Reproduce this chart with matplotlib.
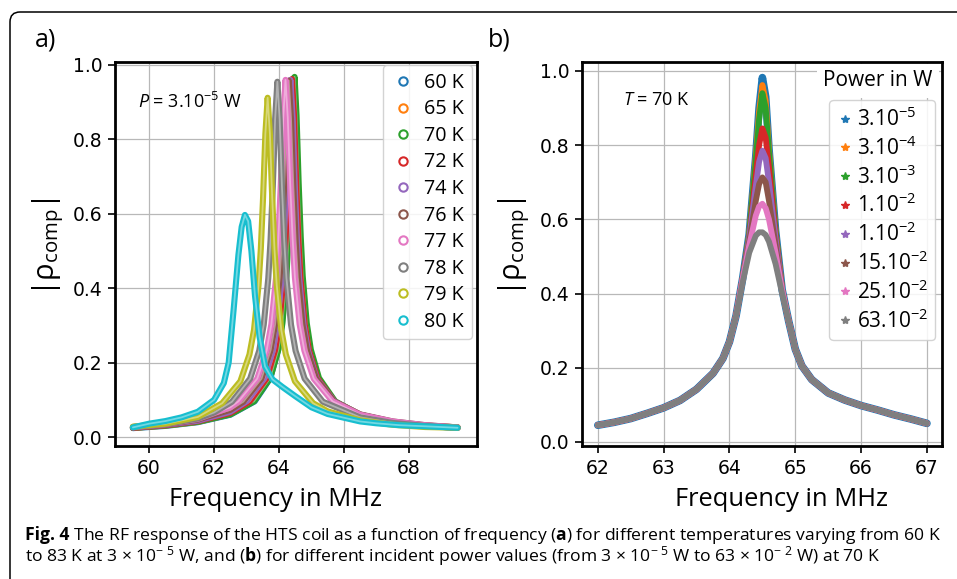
import matplotlib
matplotlib.use("Agg")
import matplotlib.pyplot as plt
import matplotlib.patheffects as pe
from matplotlib.colors import to_rgb
from matplotlib.lines import Line2D
from matplotlib.patches import FancyBboxPatch

plt.rcParams["font.family"] = ["Open Sans", "DejaVu Sans"]
plt.rcParams["mathtext.fontset"] = "custom"
plt.rcParams["mathtext.rm"] = "Open Sans"
plt.rcParams["mathtext.it"] = "Open Sans:italic"
plt.rcParams["mathtext.bf"] = "Open Sans:bold"

# ---- panel a: |rho_comp| vs frequency for several temperatures (P = 3e-5 W)
temp_labels = ["60 K", "65 K", "70 K", "72 K", "74 K", "76 K", "77 K", "78 K", "79 K", "80 K"]

f60 = [59.5, 60.5, 61.5, 62.5, 63.25, 63.73, 63.97, 64.09, 64.21, 64.27, 64.33, 64.39, 64.45,
       64.51, 64.57, 64.63, 64.69, 64.81, 64.93, 65.17, 65.65, 66.5, 67.5, 68.5, 69.5]
v60 = [0.024, 0.030, 0.040, 0.060, 0.096, 0.158, 0.234, 0.305, 0.431, 0.536, 0.682, 0.863, 0.965,
       0.863, 0.682, 0.536, 0.431, 0.305, 0.234, 0.158, 0.096, 0.057, 0.039, 0.030, 0.025]

f65 = [59.5, 60.5, 61.5, 62.5, 63.18, 63.68, 63.93, 64.055, 64.18, 64.24, 64.305, 64.37, 64.43,
       64.49, 64.555, 64.62, 64.68, 64.805, 64.93, 65.18, 65.68, 66.5, 67.5, 68.5, 69.5]
v65 = [0.025, 0.031, 0.041, 0.062, 0.096, 0.158, 0.234, 0.304, 0.430, 0.534, 0.680, 0.860, 0.962,
       0.860, 0.680, 0.534, 0.430, 0.304, 0.234, 0.158, 0.096, 0.059, 0.040, 0.031, 0.026]

f70 = [59.5, 60.5, 61.5, 62.5, 63.23, 63.73, 63.98, 64.105, 64.23, 64.29, 64.355, 64.42, 64.48,
       64.54, 64.605, 64.67, 64.73, 64.855, 64.98, 65.23, 65.73, 66.5, 67.5, 68.5, 69.5]
v70 = [0.025, 0.031, 0.041, 0.061, 0.096, 0.159, 0.235, 0.306, 0.433, 0.537, 0.684, 0.865, 0.968,
       0.865, 0.684, 0.537, 0.433, 0.306, 0.235, 0.159, 0.096, 0.060, 0.040, 0.031, 0.026]

f72 = [59.5, 60.5, 61.5, 62.5, 63.1, 63.62, 63.88, 64.01, 64.14, 64.205, 64.27, 64.335, 64.4,
       64.465, 64.53, 64.595, 64.66, 64.79, 64.92, 65.18, 65.7, 66.5, 67.5, 68.5, 69.5]
v72 = [0.025, 0.032, 0.043, 0.065, 0.096, 0.158, 0.234, 0.304, 0.430, 0.534, 0.680, 0.860, 0.962,
       0.860, 0.680, 0.534, 0.430, 0.304, 0.234, 0.158, 0.096, 0.060, 0.040, 0.030, 0.025]

f74 = [59.5, 60.5, 61.5, 62.5, 63.0, 63.54, 63.81, 63.945, 64.08, 64.15, 64.215, 64.28, 64.35,
       64.42, 64.485, 64.55, 64.62, 64.755, 64.89, 65.16, 65.7, 66.5, 67.5, 68.5, 69.5]
v74 = [0.026, 0.033, 0.044, 0.068, 0.096, 0.157, 0.233, 0.303, 0.429, 0.533, 0.679, 0.858, 0.960,
       0.858, 0.679, 0.533, 0.429, 0.303, 0.233, 0.157, 0.096, 0.060, 0.041, 0.031, 0.025]

f76 = [59.5, 60.5, 61.5, 62.5, 62.9, 63.46, 63.74, 63.88, 64.02, 64.09, 64.16, 64.23, 64.3,
       64.37, 64.44, 64.51, 64.58, 64.72, 64.86, 65.14, 65.7, 66.5, 67.5, 68.5, 69.5]
v76 = [0.027, 0.034, 0.047, 0.073, 0.095, 0.157, 0.233, 0.303, 0.428, 0.532, 0.677, 0.856, 0.958,
       0.856, 0.677, 0.532, 0.428, 0.303, 0.233, 0.157, 0.095, 0.061, 0.042, 0.032, 0.026]

f77 = [59.5, 60.5, 61.5, 62.5, 62.75, 63.33, 63.62, 63.765, 63.91, 63.98, 64.055, 64.13, 64.2,
       64.27, 64.345, 64.42, 64.49, 64.635, 64.78, 65.07, 65.65, 66.5, 67.5, 68.5, 69.5]
v77 = [0.027, 0.035, 0.049, 0.080, 0.096, 0.157, 0.233, 0.303, 0.429, 0.533, 0.679, 0.858, 0.960,
       0.858, 0.679, 0.533, 0.429, 0.303, 0.233, 0.157, 0.096, 0.060, 0.042, 0.032, 0.026]

f78 = [59.5, 60.5, 61.5, 62.0, 62.55, 63.11, 63.39, 63.53, 63.67, 63.74, 63.81, 63.88, 63.95,
       64.02, 64.09, 64.16, 64.23, 64.37, 64.51, 64.79, 65.35, 66.5, 67.5, 68.5, 69.5]
v78 = [0.027, 0.035, 0.050, 0.066, 0.095, 0.157, 0.232, 0.302, 0.427, 0.530, 0.675, 0.854, 0.955,
       0.854, 0.675, 0.530, 0.427, 0.302, 0.232, 0.157, 0.095, 0.053, 0.038, 0.030, 0.025]

f79 = [59.5, 60.5, 61.5, 62.25, 62.81, 63.09, 63.23, 63.37, 63.44, 63.51, 63.58, 63.65, 63.72,
       63.79, 63.86, 63.93, 64.07, 64.21, 64.49, 65.05, 65.5, 66.5, 67.5, 68.5, 69.5]
v79 = [0.028, 0.036, 0.054, 0.091, 0.150, 0.222, 0.288, 0.408, 0.506, 0.645, 0.815, 0.912, 0.815,
       0.645, 0.506, 0.408, 0.288, 0.222, 0.150, 0.091, 0.069, 0.045, 0.033, 0.027, 0.025]

f80 = [59.5, 60.0, 60.5, 61.0, 61.5, 62.0, 62.3, 62.45, 62.6, 62.75, 62.85, 62.95, 63.05, 63.15,
       63.26, 63.4, 63.57, 63.8, 64.1, 64.5, 65.0, 65.5, 66.0, 66.5, 67.0, 67.7, 68.5, 69.5]
v80 = [0.026, 0.036, 0.043, 0.053, 0.068, 0.100, 0.145, 0.200, 0.340, 0.490, 0.565, 0.597, 0.580,
       0.500, 0.380, 0.270, 0.190, 0.155, 0.135, 0.110, 0.080, 0.062, 0.052, 0.042, 0.037, 0.032,
       0.029, 0.025]

freqs_a = [f60, f65, f70, f72, f74, f76, f77, f78, f79, f80]
vals_a = [v60, v65, v70, v72, v74, v76, v77, v78, v79, v80]

# ---- panel b: |rho_comp| vs frequency for several powers (T = 70 K)
power_labels = [r"3.10$^{\mathregular{-5}}$", r"3.10$^{\mathregular{-4}}$", r"3.10$^{\mathregular{-3}}$",
                r"1.10$^{\mathregular{-2}}$", r"1.10$^{\mathregular{-2}}$", r"15.10$^{\mathregular{-2}}$",
                r"25.10$^{\mathregular{-2}}$", r"63.10$^{\mathregular{-2}}$"]

freq_b = [62.0, 62.25, 62.5, 62.75, 63.0, 63.25, 63.5, 63.75, 63.9, 64.0, 64.1,
          64.2, 64.3, 64.4, 64.45, 64.5, 64.55, 64.6, 64.7, 64.8,
          64.9, 65.0, 65.1, 65.25, 65.5, 65.75, 66.0, 66.25, 66.5, 66.75, 67.0]
# flanks are common to all powers, only the top of the resonance differs
tail_left_b = [0.045, 0.053, 0.063, 0.077, 0.092, 0.112, 0.142, 0.185, 0.225, 0.270, 0.340]
tail_right_b = [0.325, 0.250, 0.205, 0.168, 0.132, 0.113, 0.098, 0.086, 0.073, 0.062, 0.050]
peak_b = [
    [0.44, 0.56, 0.77, 0.90, 0.982, 0.93, 0.79, 0.57, 0.41],
    [0.44, 0.56, 0.77, 0.89, 0.962, 0.92, 0.79, 0.57, 0.41],
    [0.44, 0.56, 0.76, 0.87, 0.940, 0.90, 0.78, 0.57, 0.41],
    [0.44, 0.55, 0.72, 0.80, 0.845, 0.82, 0.74, 0.56, 0.41],
    [0.44, 0.55, 0.69, 0.755, 0.785, 0.765, 0.70, 0.55, 0.41],
    [0.44, 0.54, 0.65, 0.695, 0.713, 0.70, 0.65, 0.53, 0.41],
    [0.44, 0.53, 0.61, 0.635, 0.642, 0.63, 0.60, 0.51, 0.41],
    [0.43, 0.51, 0.556, 0.565, 0.565, 0.558, 0.54, 0.48, 0.40],
]

colors = plt.rcParams["axes.prop_cycle"].by_key()["color"]


def lighter(c, amount=0.4):
    r, g, b = to_rgb(c)
    return (r + (1 - r) * amount, g + (1 - g) * amount, b + (1 - b) * amount)


fig = plt.figure(figsize=(9.57, 5.79), dpi=100)
ax_a = fig.add_axes([0.1202, 0.2297, 0.3783, 0.6632])
ax_b = fig.add_axes([0.6082, 0.2297, 0.3762, 0.6632])

# chains of open circles in the original: coloured band with a paler core
for f, v, c in zip(freqs_a, vals_a, colors):
    ax_a.plot(f, v, color=c, lw=4.4, solid_capstyle="round", solid_joinstyle="round", zorder=3,
              path_effects=[pe.Stroke(linewidth=4.4, foreground=c),
                            pe.Stroke(linewidth=1.3, foreground=lighter(c))])

for i, pk in enumerate(peak_b):
    c = colors[i]
    lw = 5.5 if i == 0 else 4.2
    ax_b.plot(freq_b, tail_left_b + pk + tail_right_b, color=c, lw=lw,
              solid_capstyle="round", solid_joinstyle="round", zorder=3)

for ax in (ax_a, ax_b):
    ax.grid(True, color="#b8b8b8", lw=0.9)
    ax.set_axisbelow(True)
    for sp in ax.spines.values():
        sp.set_linewidth(2.0)
        sp.set_color("black")
    ax.tick_params(labelsize=13.5, labelfontfamily="DejaVu Sans", length=5, width=1.2,
                   pad=4, colors="black")
    ax.set_yticks([0.0, 0.2, 0.4, 0.6, 0.8, 1.0])
    ax.set_xlabel("Frequency in MHz", fontsize=18.4)
    ax.set_ylabel(r"$|\mathrm{\rho}_{\mathrm{comp}}|$", fontsize=21)

ax_a.set_xlim(58.95, 70.1)
ax_a.set_ylim(-0.024, 1.008)
ax_a.set_xticks([60, 62, 64, 66, 68])
ax_b.set_xlim(61.76, 67.23)
ax_b.set_ylim(-0.011, 1.024)
ax_b.set_xticks([62, 63, 64, 65, 66, 67])

ax_a.xaxis.set_label_coords(0.442, -0.106)
ax_b.xaxis.set_label_coords(0.554, -0.106)
ax_a.yaxis.set_label_coords(-0.135, 0.52)
ax_b.yaxis.set_label_coords(-0.138, 0.52)

ax_a.text(0.064, 0.896, r"$\mathit{P}$ = 3.10$^{\mathregular{-5}}$ W", transform=ax_a.transAxes,
          fontsize=13, va="center")
ax_b.text(0.114, 0.901, r"$\mathit{T}$ = 70 K", transform=ax_b.transAxes,
          fontsize=13, va="center")

handles_a = [Line2D([], [], ls="none", marker="o", ms=6, mfc="none", mec=c, mew=1.5)
             for c in colors[:len(temp_labels)]]
ax_a.legend(handles_a, temp_labels, loc="upper right", bbox_to_anchor=(0.986, 0.992),
            borderaxespad=0, fontsize=14.2, handlelength=1.2, handletextpad=0.5,
            labelspacing=0.33, borderpad=0.4, framealpha=0.85)

handles_b = [Line2D([], [], ls="none", marker="*", ms=6, color=c)
             for c in colors[:len(power_labels)]]
ax_b.legend(handles_b, power_labels, loc="upper right", bbox_to_anchor=(0.981, 0.901),
            borderaxespad=0, fontsize=15, handlelength=0.8, handletextpad=0.15,
            labelspacing=0.25, borderpad=0.35, framealpha=0.85)
ax_b.text(0.822, 0.951, "Power in W", transform=ax_b.transAxes, fontsize=15,
          ha="center", va="center", zorder=6,
          bbox=dict(boxstyle="square,pad=0.3", fc="white", ec="none"))

fig.text(0.0366, 0.931, "a)", fontsize=18, va="center")
fig.text(0.510, 0.931, "b)", fontsize=18, va="center")

# caption: bold "Fig. 4" then the running text right after it
cap_bold = fig.text(0.026, 0.0675, "Fig. 4", fontsize=12.6, fontweight="bold", va="baseline")
fig.canvas.draw()
bx = cap_bold.get_window_extent().x1 / fig.bbox.width
fig.text(bx, 0.0675,
         r" The RF response of the HTS coil as a function of frequency "
         r"($\mathbf{a}$) for different temperatures varying from 60 K",
         fontsize=12.6, va="baseline")
fig.text(0.026, 0.031,
         r"to 83 K at 3 × 10$^{\mathregular{-\ 5}}$ W, and ($\mathbf{b}$) for different incident "
         r"power values (from 3 × 10$^{\mathregular{-\ 5}}$ W to 63 × 10$^{\mathregular{-\ 2}}$ W) at 70 K",
         fontsize=12.6, va="baseline")

# rounded frame around the figure
frame = FancyBboxPatch((0.10, -1.0), 11.0, 6.67, boxstyle="round,pad=0,rounding_size=0.1",
                       transform=fig.dpi_scale_trans, fc="none", ec="black", lw=1.1)
fig.add_artist(frame)

fig.savefig("out.png", dpi=100)
